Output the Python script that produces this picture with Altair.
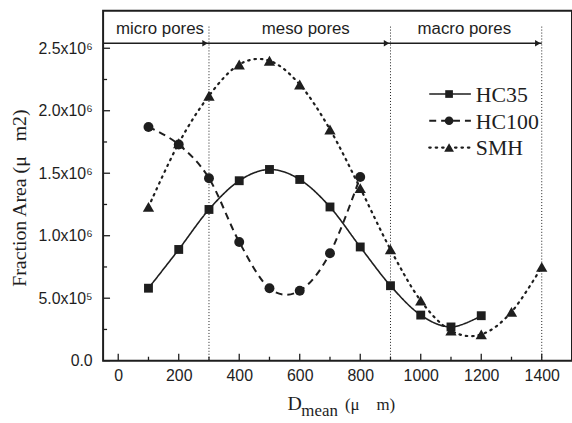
import altair as alt
import pandas as pd

# ---- data ----
d_hc35 = [100, 200, 300, 400, 500, 600, 700, 800, 900, 1000, 1100, 1200]
v_hc35 = [5.8e5, 8.9e5, 1.21e6, 1.44e6, 1.53e6, 1.45e6, 1.23e6, 9.1e5, 6.0e5, 3.65e5, 2.7e5, 3.6e5]

d_hc100 = [100, 200, 300, 400, 500, 600, 700, 800]
v_hc100 = [1.87e6, 1.73e6, 1.46e6, 9.5e5, 5.8e5, 5.6e5, 8.6e5, 1.47e6]

d_smh = [100, 200, 300, 400, 500, 600, 700, 800, 900, 1000, 1100, 1200, 1300, 1400]
v_smh = [1.23e6, 1.74e6, 2.12e6, 2.37e6, 2.40e6, 2.21e6, 1.85e6, 1.38e6, 8.9e5, 4.8e5, 2.4e5, 2.1e5, 3.9e5, 7.5e5]

series_names = ["HC35", "HC100", "SMH"]

region_bounds = [300, 900, 1400]
region_labels = ["micro pores", "meso pores", "macro pores"]
region_label_x = [138, 620, 1144]

x_major = [0, 200, 400, 600, 800, 1000, 1200, 1400]
x_minor = [100, 300, 500, 700, 900, 1100, 1300]
y_major = [0, 5e5, 1.0e6, 1.5e6, 2.0e6, 2.5e6]
y_minor = [2.5e5, 7.5e5, 1.25e6, 1.75e6, 2.25e6]

X_DOMAIN = [-50, 1500]
Y_DOMAIN = [0, 2.8e6]
W, H = 473, 353
INK = "#1e1e1e"
SANS = "Liberation Sans"
SERIF = "Liberation Serif"
NB = "\u00a0"

xs = alt.Scale(domain=X_DOMAIN, nice=False, zero=False)
ys = alt.Scale(domain=Y_DOMAIN, nice=False, zero=False)

y_label_expr = (
    "datum.value == 0 ? '0.0' : (datum.value < 1000000 ? "
    "format(datum.value/100000, '.1f') + 'x10\u2075' : "
    "format(datum.value/1000000, '.1f') + 'x10\u2076')"
)

x_axis = alt.Axis(values=x_major, format="d", labelFont=SANS, labelFontSize=16,
                  labelColor=INK, labelPadding=7, ticks=False, tickSize=0,
                  domain=False, grid=False, title=None)
y_axis = alt.Axis(values=y_major, labelExpr=y_label_expr, labelFont=SANS,
                  labelFontSize=16, labelColor=INK, labelPadding=11,
                  ticks=False, tickSize=0, domain=False, grid=False, title=None)

def X(field="D"):
    return alt.X(f"{field}:Q", scale=xs, axis=x_axis, title=None)

def Y(field="v"):
    return alt.Y(f"{field}:Q", scale=ys, axis=y_axis, title=None)

layers = []

# inward ticks
xt_major = pd.DataFrame({"D": x_major})
xt_minor = pd.DataFrame({"D": x_minor})
yt_major = pd.DataFrame({"v": y_major})
yt_minor = pd.DataFrame({"v": y_minor})
layers.append(alt.Chart(xt_major).mark_rule(color=INK, strokeWidth=1.3).encode(
    x=X(), y=alt.value(H), y2=alt.value(H - 7)))
layers.append(alt.Chart(xt_minor).mark_rule(color=INK, strokeWidth=1.3).encode(
    x=X(), y=alt.value(H), y2=alt.value(H - 4)))
layers.append(alt.Chart(yt_major).mark_rule(color=INK, strokeWidth=1.3).encode(
    y=Y(), x=alt.value(0), x2=alt.value(7)))
layers.append(alt.Chart(yt_minor).mark_rule(color=INK, strokeWidth=1.3).encode(
    y=Y(), x=alt.value(0), x2=alt.value(4)))

# region separators (dotted verticals)
sep_df = pd.DataFrame({"D": region_bounds, "v": [0] * 3, "v2": [2.675e6] * 3})
layers.append(alt.Chart(sep_df).mark_rule(color=INK, strokeWidth=1, strokeDash=[1, 2]).encode(
    x=X(), y=Y("v"), y2="v2:Q"))

# header arrow line
arrow_df = pd.DataFrame({"D": [X_DOMAIN[0]], "D2": [region_bounds[-1]], "v": [2.54e6]})
layers.append(alt.Chart(arrow_df).mark_rule(color=INK, strokeWidth=1.3).encode(
    x=X(), x2="D2:Q", y=Y()))
head_df = pd.DataFrame({"D": region_bounds, "v": [2.54e6] * 3})
layers.append(alt.Chart(head_df).mark_point(shape="triangle-right", filled=True, color=INK,
                                            size=40, opacity=1, xOffset=-4).encode(x=X(), y=Y()))
lab_df = pd.DataFrame({"D": region_label_x, "v": [2.65e6] * 3, "t": region_labels})
layers.append(alt.Chart(lab_df).mark_text(font=SANS, fontSize=17, color=INK, baseline="middle",
                                          align="center").encode(x=X(), y=Y(), text="t:N"))

# series
styles = {
    "HC35": dict(dash=[1, 0], shape="square", size=80, width=1.6),
    "HC100": dict(dash=[7, 5], shape="circle", size=100, width=2),
    "SMH": dict(dash=[1.5, 5], shape="triangle-up", size=130, width=2.2),
}
series_data = {"HC35": (d_hc35, v_hc35), "HC100": (d_hc100, v_hc100), "SMH": (d_smh, v_smh)}
for name in series_names:
    d, v = series_data[name]
    df = pd.DataFrame({"D": d, "v": v})
    st = styles[name]
    layers.append(alt.Chart(df).mark_line(color=INK, strokeWidth=st["width"], strokeDash=st["dash"],
                                          strokeCap="round" if name == "SMH" else "butt",
                                          interpolate="cardinal").encode(x=X(), y=Y()))
    layers.append(alt.Chart(df).mark_point(shape=st["shape"], size=st["size"], filled=True,
                                           color=INK, opacity=1).encode(x=X(), y=Y()))

# manual legend
one = alt.Data(values=[{}])
leg_rows = [84, 111, 138]
for name, yy in zip(series_names, leg_rows):
    st = styles[name]
    layers.append(alt.Chart(one).mark_rule(color=INK, strokeWidth=st["width"], strokeDash=st["dash"],
                                           strokeCap="round" if name == "SMH" else "butt").encode(
        x=alt.value(329), x2=alt.value(371), y=alt.value(yy)))
    layers.append(alt.Chart(one).mark_point(shape=st["shape"], size=st["size"] * 0.75, filled=True,
                                            color=INK, opacity=1).encode(
        x=alt.value(349), y=alt.value(yy)))
    layers.append(alt.Chart(one).mark_text(text=name, font=SERIF, fontSize=22, color=INK,
                                           align="left", baseline="middle").encode(
        x=alt.value(376), y=alt.value(yy + 1)))

# axis titles as text
layers.append(alt.Chart(one).mark_text(text=f"Fraction Area (\u03bc{NB}{NB} m2)", font=SERIF,
                                       fontSize=20, color=INK, angle=270, align="center",
                                       baseline="middle").encode(
    x=alt.value(-84), y=alt.value(189)))
layers.append(alt.Chart(one).mark_text(text="D", font=SERIF, fontSize=20, color=INK,
                                       align="left", baseline="alphabetic").encode(
    x=alt.value(186), y=alt.value(403)))
layers.append(alt.Chart(one).mark_text(text="mean", font=SERIF, fontSize=17, color=INK,
                                       align="left", baseline="alphabetic").encode(
    x=alt.value(200), y=alt.value(409)))
layers.append(alt.Chart(one).mark_text(text=f"(\u03bc{NB}{NB}{NB} m)", font=SERIF, fontSize=17,
                                       color=INK, align="left", baseline="alphabetic").encode(
    x=alt.value(244), y=alt.value(403)))

chart = alt.layer(*layers).properties(
    width=W, height=H,
    autosize=alt.AutoSizeParams(type="none"),
    padding={"left": 104, "top": 9, "right": 0, "bottom": 61},
    background="white",
).configure_view(stroke=INK, strokeWidth=2)

chart.save("out.html", embed_options={"renderer": "svg", "actions": False})
